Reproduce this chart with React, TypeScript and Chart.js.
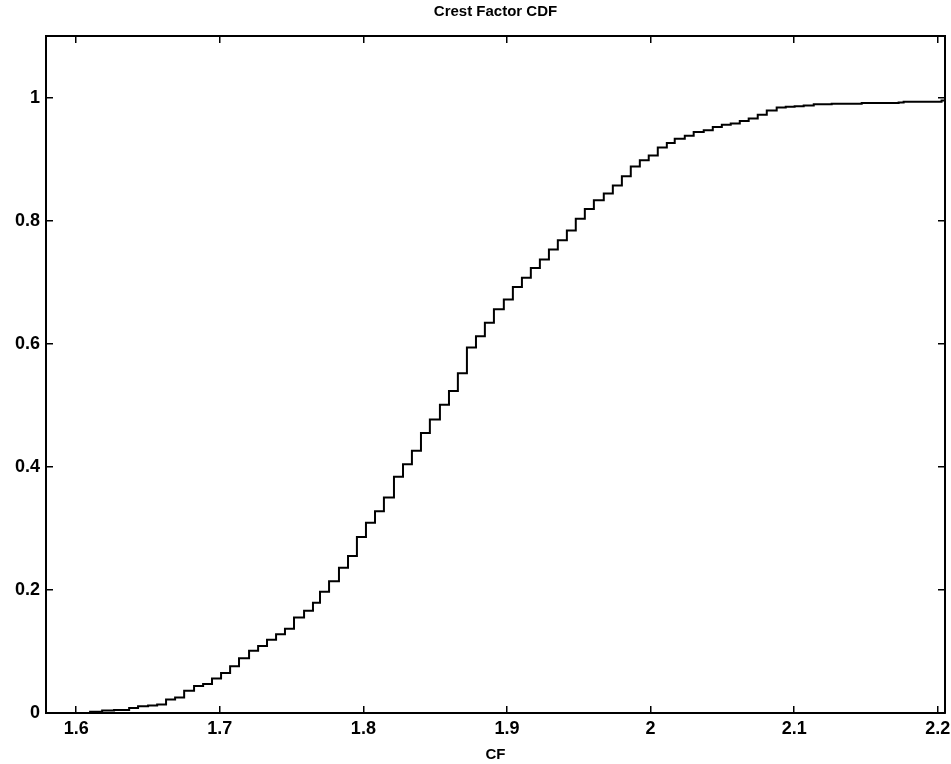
import React, { useEffect, useRef } from 'react';
import { Chart, registerables } from 'chart.js';

Chart.register(...registerables);

const chartTitle = 'Crest Factor CDF';
const xAxisLabel = 'CF';

const cfValues = [
  1.579, 1.6, 1.6097, 1.6181, 1.6264, 1.6369, 1.6431, 1.6501, 1.6564, 1.6626,
  1.6689, 1.6752, 1.6821, 1.6884, 1.6946, 1.7009, 1.7072, 1.7134, 1.7204, 1.7267,
  1.7329, 1.7392, 1.7454, 1.7517, 1.7587, 1.7649, 1.7698, 1.7761, 1.783, 1.7893,
  1.7955, 1.8018, 1.8081, 1.8143, 1.8213, 1.8276, 1.8338, 1.8401, 1.8463, 1.8533,
  1.8596, 1.8658, 1.8721, 1.8784, 1.8846, 1.8909, 1.8978, 1.9041, 1.9104, 1.9166,
  1.9229, 1.9292, 1.9354, 1.9417, 1.9479, 1.9542, 1.9605, 1.9674, 1.9737, 1.98,
  1.9862, 1.9925, 1.9987, 2.005, 2.0113, 2.0168, 2.0238, 2.03, 2.037, 2.0433,
  2.0496, 2.0558, 2.0621, 2.0683, 2.0746, 2.0809, 2.0878, 2.0941, 2.1003, 2.1066,
  2.1136, 2.1261, 2.147, 2.1727, 2.1762, 2.2026, 2.205,
];

const cdfValues = [
  0, 0, 0.002, 0.004, 0.005, 0.008, 0.011, 0.012, 0.014, 0.022,
  0.025, 0.036, 0.044, 0.047, 0.056, 0.065, 0.076, 0.089, 0.101, 0.109,
  0.119, 0.128, 0.137, 0.155, 0.166, 0.179, 0.197, 0.214, 0.236, 0.255,
  0.286, 0.309, 0.328, 0.35, 0.384, 0.404, 0.426, 0.455, 0.477, 0.501,
  0.523, 0.552, 0.594, 0.612, 0.634, 0.656, 0.672, 0.692, 0.707, 0.723,
  0.737, 0.753, 0.768, 0.784, 0.803, 0.819, 0.833, 0.844, 0.857, 0.872,
  0.888, 0.898, 0.906, 0.919, 0.926, 0.933, 0.938, 0.944, 0.947, 0.952,
  0.956, 0.958, 0.962, 0.966, 0.972, 0.979, 0.984, 0.985, 0.986, 0.987,
  0.989, 0.99, 0.991, 0.992, 0.993, 0.995, 0.995,
];

const xTickValues = [1.6, 1.7, 1.8, 1.9, 2.0, 2.1, 2.2];
const yTickValues = [0, 0.2, 0.4, 0.6, 0.8, 1.0];

const X_MIN = 1.579;
const X_MAX = 2.205;
const Y_MIN = 0;
const Y_MAX = 1.1;

const FONT_FAMILY = '"Liberation Sans", Arial, Helvetica, sans-serif';

function fmt(v: number): string {
  return String(Number(Number(v).toFixed(3)));
}

function zeroPadding(s: any) {
  s.paddingLeft = 0;
  s.paddingRight = 0;
  s.paddingTop = 0;
  s.paddingBottom = 0;
}

export default function App() {
  const canvasRef = useRef<HTMLCanvasElement | null>(null);

  useEffect(() => {
    const canvas = canvasRef.current;
    if (!canvas) return;

    const points = cfValues.map((x, i) => ({ x, y: cdfValues[i] }));

    const commonGrid = {
      drawOnChartArea: false,
      drawTicks: true,
      tickLength: -7,
      color: '#000',
      lineWidth: 1.5,
    };
    const commonBorder = { display: true, color: '#000', width: 2 };
    const tickFont = { family: FONT_FAMILY, size: 18, weight: 'bold' as const };

    const chart = new Chart(canvas, {
      type: 'line',
      data: {
        datasets: [
          {
            data: points,
            borderColor: '#000',
            borderWidth: 2,
            pointRadius: 0,
            stepped: 'before',
            fill: false,
          },
        ],
      },
      options: {
        animation: false,
        responsive: false,
        maintainAspectRatio: false,
        parsing: false as any,
        layout: { padding: { left: 0, right: 6, top: 0, bottom: 0 } },
        plugins: {
          legend: { display: false },
          tooltip: { enabled: false },
          title: {
            display: true,
            text: chartTitle,
            fullSize: false,
            color: '#000',
            font: { family: FONT_FAMILY, size: 15, weight: 'bold' },
            padding: { top: 3, bottom: 15 },
          },
        },
        scales: {
          x: {
            type: 'linear',
            position: 'bottom',
            min: X_MIN,
            max: X_MAX,
            grid: commonGrid,
            border: commonBorder,
            afterBuildTicks: (s: any) => {
              s.ticks = xTickValues.map((v) => ({ value: v }));
            },
            ticks: {
              color: '#000',
              font: tickFont,
              padding: 12,
              maxRotation: 0,
              autoSkip: false,
              callback: (v: any) => fmt(v),
            },
            title: {
              display: true,
              text: xAxisLabel,
              color: '#000',
              font: { family: FONT_FAMILY, size: 15, weight: 'bold' },
              padding: { top: 0, bottom: 0 },
            },
            afterFit: (s: any) => {
              s.height = 51;
              zeroPadding(s);
            },
          },
          x2: {
            type: 'linear',
            position: 'top',
            min: X_MIN,
            max: X_MAX,
            grid: commonGrid,
            border: commonBorder,
            afterBuildTicks: (s: any) => {
              s.ticks = xTickValues.map((v) => ({ value: v }));
            },
            ticks: { display: false },
            afterFit: (s: any) => {
              s.height = 0;
              zeroPadding(s);
            },
          },
          y: {
            type: 'linear',
            position: 'left',
            min: Y_MIN,
            max: Y_MAX,
            grid: commonGrid,
            border: commonBorder,
            afterBuildTicks: (s: any) => {
              s.ticks = yTickValues.map((v) => ({ value: v }));
            },
            ticks: {
              color: '#000',
              font: tickFont,
              padding: 13,
              autoSkip: false,
              callback: (v: any) => fmt(v),
            },
            afterFit: (s: any) => {
              s.width = 46;
              zeroPadding(s);
            },
          },
          y2: {
            type: 'linear',
            position: 'right',
            min: Y_MIN,
            max: Y_MAX,
            grid: commonGrid,
            border: commonBorder,
            afterBuildTicks: (s: any) => {
              s.ticks = yTickValues.map((v) => ({ value: v }));
            },
            ticks: { display: false },
            afterFit: (s: any) => {
              s.width = 0;
              zeroPadding(s);
            },
          },
        },
      },
    } as any);

    return () => {
      chart.destroy();
    };
  }, []);

  return (
    <div style={{ position: 'fixed', left: 0, top: 0, width: 951, height: 764, background: '#fff' }}>
      <canvas ref={canvasRef} width={951} height={764} style={{ display: 'block' }} />
    </div>
  );
}
